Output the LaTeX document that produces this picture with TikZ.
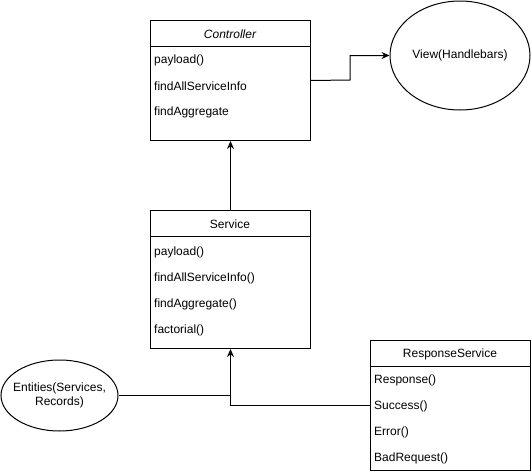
\documentclass[tikz,border=0pt]{standalone}
\usepackage{fontspec}
\setmainfont{Liberation Sans}
\usetikzlibrary{arrows.meta,shapes.geometric}
\begin{document}
\begin{tikzpicture}[x=1pt,y=-1pt,
  every node/.style={font=\fontsize{12}{14}\selectfont, inner sep=0pt},
  classbox/.style={draw, line width=1pt, rectangle, minimum width=160pt, anchor=north west},
  oval/.style={draw, line width=1pt, ellipse},
  member/.style={anchor=west},
  conn/.style={line width=1pt},
  arr/.style={conn, -{Stealth[length=8pt,width=7pt]}}]
\useasboundingbox (0,0) rectangle (531,474);
% Controller
\node[classbox, minimum height=120pt] (ctrl) at (150,20) {};
\coordinate (ctrlhl) at (150,46);
\coordinate (ctrlhr) at (310,46);
\draw[conn] (ctrlhl) -- (ctrlhr);
\node (ctrlt) at (230,34) {\itshape Controller};
\node[member] (c1) at (154,60) {payload()};
\node[member] (c2) at (154,86) {findAllServiceInfo};
\node[member] (c3) at (154,112) {findAggregate};
% View
\node[oval, minimum width=140pt, minimum height=109pt] (view) at (460,55.5) {};
\node (viewt) at (460,55.5) {View(Handlebars)};
% Service
\node[classbox, minimum height=138pt] (svc) at (150,210) {};
\coordinate (svchl) at (150,236);
\coordinate (svchr) at (310,236);
\draw[conn] (svchl) -- (svchr);
\node (svct) at (230,224) {Service};
\node[member] (s1) at (154,252) {payload()};
\node[member] (s2) at (154,278) {findAllServiceInfo()};
\node[member] (s3) at (154,304) {findAggregate()};
\node[member] (s4) at (154,330) {factorial()};
% Entities
\node[oval, minimum width=117pt, minimum height=71pt] (ent) at (59.5,395.5) {};
\node[align=center] (entt) at (59.5,395.5) {Entities(Services,\\Records)};
% ResponseService
\node[classbox, minimum height=130pt] (resp) at (370,340) {};
\coordinate (resphl) at (370,366);
\coordinate (resphr) at (530,366);
\draw[conn] (resphl) -- (resphr);
\node (respt) at (450,354) {ResponseService};
\node[member] (r1) at (374,380) {Response()};
\node[member] (r2) at (374,406) {Success()};
\node[member] (r3) at (374,432) {Error()};
\node[member] (r4) at (374,458) {BadRequest()};
% connectors
\draw[arr] (ctrl.east) -- (350,80) |- (view.west);
\draw[arr] (svc.north) -- (ctrl.south);
\coordinate (join) at (230,395.5);
\draw[conn] (ent.east) -- (join);
\draw[arr] (resp.west) -| (svc.south);
\end{tikzpicture}
\end{document}
